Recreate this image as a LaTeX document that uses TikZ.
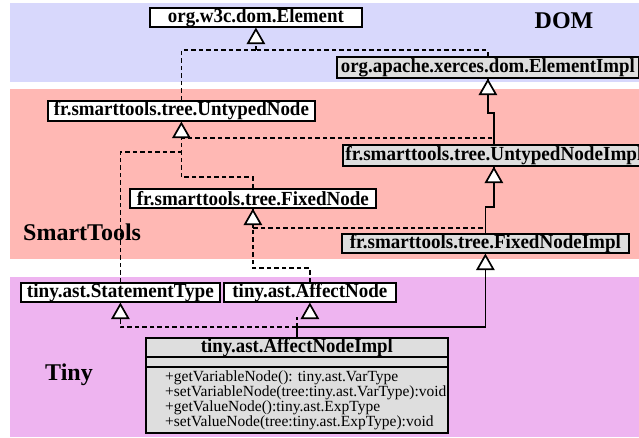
\documentclass[tikz,border=0pt]{standalone}
\usepackage{fontspec}
\setmainfont{Liberation Serif}
\usepackage{graphicx}
\usetikzlibrary{calc}
\definecolor{domband}{RGB}{216,216,252}
\definecolor{stband}{RGB}{255,184,180}
\definecolor{tinyband}{RGB}{238,180,240}
\definecolor{boxgray}{RGB}{222,222,222}
\newcommand{\cn}[2]{\resizebox{#1pt}{\height}{#2}}
\newcommand{\inhtri}[1]{\draw[trishape] ($(#1)+(0,1.5)$) -- ++(8,14) -- ++(-16,0) -- cycle;}
\begin{document}
\begin{tikzpicture}[x=1pt,y=-1pt,
  cls/.style={draw, line width=1.8pt, fill=white, inner sep=0pt, anchor=north west,
    font=\fontsize{20}{22}\selectfont\bfseries},
  impl/.style={cls, fill=boxgray},
  dep/.style={dash pattern=on 4.5pt off 3pt, line width=1.7pt},
  inh/.style={line width=1.7pt},
  trishape/.style={draw, fill=white, line width=1.7pt, line join=miter},
  bandlabel/.style={inner sep=0pt, font=\fontsize{24}{26}\selectfont\bfseries}]
\useasboundingbox (0,0) rectangle (639,437);
% bands
\fill[domband] (10,3) rectangle (639,82);
\fill[stband] (10,89) rectangle (639,259);
\fill[tinyband] (10,277) rectangle (639,437);
% band labels
\node[bandlabel, anchor=base] (dom) at (564,28) {DOM};
\node[bandlabel, anchor=base west] (st) at (23,240) {SmartTools};
\node[bandlabel, anchor=base west] (tiny) at (45,380) {Tiny};
% classes
\node[cls, minimum width=212pt, minimum height=19pt] (w3c) at (149,7) {\cn{176}{org.w3c.dom.Element}};
\node[impl, minimum width=302pt, minimum height=21pt] (elemimpl) at (336,56) {\cn{294}{org.apache.xerces.dom.ElementImpl}};
\node[cls, minimum width=267pt, minimum height=20pt] (untyped) at (47,100) {\cn{255}{fr.smarttools.tree.UntypedNode}};
\node[impl, minimum width=302pt, minimum height=21pt] (untypedimpl) at (342,144) {\cn{297}{fr.smarttools.tree.UntypedNodeImpl}};
\node[cls, minimum width=246pt, minimum height=19pt] (fixednode) at (129,188) {\cn{232}{fr.smarttools.tree.FixedNode}};
\node[impl, minimum width=287pt, minimum height=19pt] (fnimpl) at (341,233) {\cn{271}{fr.smarttools.tree.FixedNodeImpl}};
\node[cls, minimum width=199pt, minimum height=19pt] (stmt) at (20,282) {\cn{187}{tiny.ast.StatementType}};
\node[cls, minimum width=172pt, minimum height=19pt] (affnode) at (223,282) {\cn{155}{tiny.ast.AffectNode}};
\node[impl, minimum width=302pt, minimum height=19pt] (affimpl) at (145,337) {\cn{192}{tiny.ast.AffectNodeImpl}};
\node[impl, minimum width=302pt, minimum height=10pt] (affempty) at (145,356) {};
\node[impl, minimum width=302pt, minimum height=66pt] (affmeth) at (145,366) {};
\node[anchor=west, align=left, inner sep=0pt, font=\fontsize{15.5}{15}\selectfont] (meth)
  at ($(affmeth.west)+(20,0)$)
  {+getVariableNode(): tiny.ast.VarType\\+setVariableNode(tree:tiny.ast.VarType):void\\+getValueNode():tiny.ast.ExpType\\+setValueNode(tree:tiny.ast.ExpType):void};
% connectors to org.w3c.dom.Element
\coordinate (jw) at (w3c.south |- 0,50);
\draw[dep] (untyped.north) |- (jw);
\draw[dep] (elemimpl.north) |- (jw);
\draw[dep] (jw) -- (w3c.south);
% connectors to UntypedNode
\draw[dep] (untypedimpl.north) |- (untyped.south |- 0,138);
\draw[dep] (stmt.north) |- (untyped.south |- 0,152);
\draw[dep] (fixednode.north) |- (untyped.south |- 0,177) -- (untyped.south);
% inheritance chain
\draw[inh] (untypedimpl.north) -- ++(0,-31) -| (elemimpl.south);
\draw[inh] (fnimpl.north) -- ++(0,-26) -| (untypedimpl.south);
% connectors to FixedNode
\coordinate (jf) at (fixednode.south |- 0,228);
\draw[dep] (fnimpl.north) |- (jf);
\draw[dep] (affnode.north) |- (fixednode.south |- 0,268) -- (jf);
\draw[dep] (jf) -- (fixednode.south);
% AffectNodeImpl
\coordinate (ja) at ($(affimpl.north)+(0,-10)$);
\coordinate (jb) at ($(ja)+(0,-10)$);
\draw[inh] (affimpl.north) -- (ja) -| (fnimpl.south);
\draw[dep] (ja) -| (stmt.south);
\draw[dep] (ja) -- (jb);
% inheritance triangles
\inhtri{w3c.south}
\inhtri{elemimpl.south}
\inhtri{untyped.south}
\inhtri{untypedimpl.south}
\inhtri{fixednode.south}
\inhtri{fnimpl.south}
\inhtri{stmt.south}
\inhtri{affnode.south}
\end{tikzpicture}
\end{document}
